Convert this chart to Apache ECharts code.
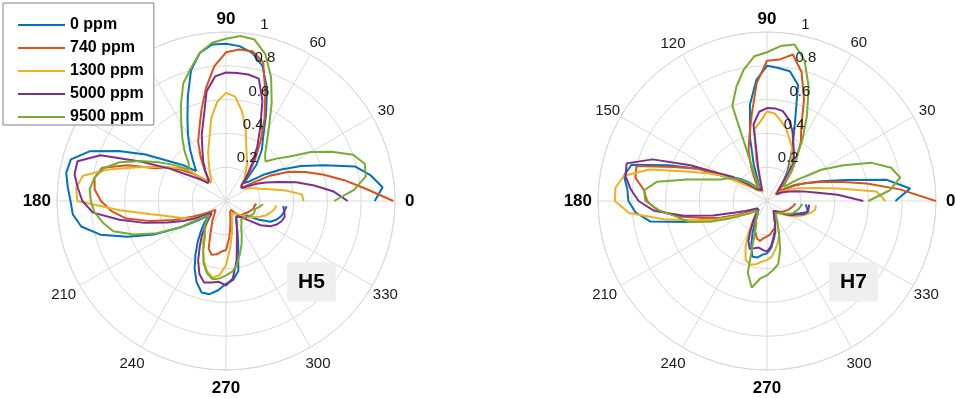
<!DOCTYPE html>
<html><head><meta charset="utf-8">
<script src="https://cdn.jsdelivr.net/npm/echarts@6/dist/echarts.min.js"></script>
<style>html,body{margin:0;padding:0;background:#fff}#c{width:955px;height:398px}</style>
</head><body><div id="c"></div>
<script>
// Shared angle grid (degrees)
const angles = [0,5,10,15,20,25,30,35,40,45,50,55,60,65,70,75,80,85,90,95,100,105,110,115,120,125,130,135,140,145,150,155,160,165,170,175,180,185,190,195,200,205,210,215,220,225,230,235,240,245,250,255,260,265,270,275,280,285,290,295,300,305,310,315,320,325,330,335,340,345,350,355];
const seriesNames = ['0 ppm','740 ppm','1300 ppm','5000 ppm','9500 ppm'];
const radialTicks = [0,0.2,0.4,0.6,0.8,1];
const angleTicks = [0,30,60,90,120,150,180,210,240,270,300,330];
const panelLabels = ['H5','H7'];

// H5 panel
const h5_0ppm = [.88,.93,.87,.79,.62,.49,.37,.27,.18,.15,.28,.37,.44,.56,.71,.83,.89,.92,.93,.93,.89,.80,.66,.54,.45,.37,.30,.25,.33,.41,.55,.70,.86,.95,.96,.94,.92,.91,.87,.77,.62,.47,.31,.20,.13,.18,.23,.29,.36,.44,.51,.56,.56,.53,.49,.47,.42,.28,.20,.15,.12,.11,.12,.13,.14,.15,.22,.29,.32,.34,.35,.36];
const h5_740ppm = [.99,.83,.71,.60,.50,.41,.30,.18,.12,.13,.20,.30,.41,.54,.68,.85,.90,.90,.88,.80,.68,.56,.46,.39,.30,.22,.15,.18,.25,.32,.40,.46,.62,.76,.79,.78,.74,.68,.60,.46,.33,.22,.15,.11,.08,.08,.11,.14,.17,.22,.30,.33,.32,.30,.29,.22,.15,.10,.07,.06,.06,.08,.10,.12,.12,.13,.14,.15,.16,.17,.17,.18];
const h5_1300ppm = [.46,.45,.36,.27,.21,.18,.15,.13,.12,.13,.17,.20,.25,.29,.35,.45,.54,.62,.64,.59,.50,.38,.31,.24,.19,.15,.14,.17,.28,.34,.40,.48,.58,.72,.86,.89,.88,.63,.45,.35,.29,.24,.20,.12,.12,.15,.18,.22,.27,.32,.38,.43,.46,.44,.38,.28,.20,.14,.10,.08,.08,.09,.10,.12,.14,.17,.19,.22,.25,.27,.29,.30];
const h5_5000ppm = [.72,.64,.53,.43,.33,.26,.20,.15,.12,.13,.19,.27,.37,.48,.63,.75,.76,.76,.76,.74,.66,.51,.42,.33,.27,.21,.16,.15,.20,.26,.38,.55,.79,.91,.91,.88,.85,.79,.64,.50,.37,.28,.20,.13,.11,.14,.19,.25,.31,.39,.46,.50,.49,.48,.50,.46,.36,.25,.19,.15,.12,.11,.12,.14,.18,.25,.30,.33,.35,.36,.35,.34];
const h5_9500ppm = [.64,.76,.84,.85,.80,.69,.58,.46,.39,.33,.36,.42,.51,.64,.78,.90,.97,.98,.96,.94,.89,.81,.74,.63,.53,.45,.38,.31,.29,.37,.46,.56,.67,.75,.79,.81,.80,.78,.74,.69,.58,.45,.31,.17,.13,.16,.20,.22,.25,.32,.39,.44,.47,.46,.44,.42,.38,.32,.27,.22,.18,.16,.14,.14,.15,.16,.17,.18,.18,.18,.20,.22];

// H7 panel
const h7_0ppm = [.76,.85,.72,.48,.34,.25,.18,.12,.07,.11,.15,.21,.27,.36,.48,.71,.78,.79,.80,.72,.58,.39,.23,.12,.07,.09,.12,.16,.20,.24,.29,.45,.62,.83,.86,.83,.82,.78,.70,.48,.30,.20,.15,.11,.09,.07,.08,.10,.14,.20,.27,.34,.34,.32,.31,.28,.23,.19,.14,.10,.08,.08,.09,.10,.12,.14,.16,.18,.21,.25,.24,.23];
const h7_740ppm = [1.0,.79,.60,.44,.33,.25,.19,.12,.08,.15,.22,.30,.40,.48,.64,.79,.88,.84,.83,.70,.52,.40,.32,.22,.14,.08,.09,.12,.16,.22,.30,.45,.59,.80,.79,.73,.71,.65,.53,.39,.29,.20,.14,.10,.08,.07,.08,.10,.13,.17,.20,.23,.24,.22,.21,.20,.18,.17,.14,.10,.08,.07,.08,.09,.10,.11,.12,.13,.14,.15,.16,.17];
const h7_1300ppm = [.70,.65,.43,.30,.22,.17,.12,.09,.06,.10,.16,.23,.29,.35,.39,.44,.48,.52,.53,.47,.43,.25,.10,.06,.05,.06,.08,.10,.13,.18,.30,.39,.51,.72,.86,.90,.90,.82,.62,.44,.32,.22,.16,.12,.09,.08,.10,.15,.22,.30,.37,.39,.38,.36,.35,.33,.29,.25,.21,.14,.10,.08,.09,.10,.12,.15,.18,.21,.24,.27,.29,.29];
const h7_5000ppm = [.57,.42,.29,.22,.17,.13,.10,.07,.06,.10,.15,.27,.32,.37,.44,.50,.54,.55,.55,.53,.46,.20,.10,.07,.06,.07,.09,.12,.17,.25,.33,.50,.72,.86,.85,.81,.76,.67,.50,.33,.20,.14,.10,.08,.07,.08,.10,.14,.19,.26,.30,.29,.28,.29,.30,.27,.22,.18,.14,.10,.08,.07,.08,.09,.11,.14,.17,.19,.23,.25,.25,.25];
const h7_9500ppm = [.60,.73,.80,.76,.66,.50,.37,.22,.13,.15,.22,.30,.42,.56,.72,.86,.94,.92,.88,.86,.79,.70,.60,.18,.09,.09,.11,.15,.19,.23,.27,.30,.37,.49,.66,.73,.72,.64,.54,.48,.36,.25,.17,.13,.10,.08,.09,.10,.13,.15,.22,.44,.52,.46,.44,.41,.38,.30,.21,.15,.11,.09,.09,.10,.11,.13,.15,.17,.18,.19,.20,.21];

const colors = ['#0072BD','#D95319','#EDB120','#7E2F8E','#77AC30'];
const panels = [
  {center:[226,201], data:[h5_0ppm,h5_740ppm,h5_1300ppm,h5_5000ppm,h5_9500ppm]},
  {center:[767,201], data:[h7_0ppm,h7_740ppm,h7_1300ppm,h7_5000ppm,h7_9500ppm]}
];
const R = 169;
const gridColor = '#d9d9d9';
const font = 'Liberation Sans, Arial, sans-serif';

// per-label text nudges (padding [top,right,bottom,left]) so labels sit like the original
const labelPad = {
  0: [0,0,0,6], 30: [0,0,-4,2], 60: [0,0,1,-3], 90: [0,0,0,0], 120: [0,-5,0,0], 150: [0,-3,-4,0],
  180: [0,2,0,0], 210: [0,0,0,0], 240: [6,-5,0,0], 270: [6,0,0,0], 300: [6,0,0,-7], 330: [0,0,0,-3]
};
const rich = {};
angleTicks.forEach(v => {
  const bold = v % 90 === 0;
  rich['a' + v] = {
    fontSize: bold ? 17 : 15, fontWeight: bold ? 'bold' : 'normal',
    color: bold ? '#000' : '#1a1a1a', fontFamily: font, padding: labelPad[v]
  };
});

const polar = [], angleAxis = [], radiusAxis = [], series = [];
panels.forEach((p, k) => {
  // data polar
  polar.push({center: p.center, radius: R});
  angleAxis.push({
    polarIndex: polar.length - 1, type: 'value', min: 0, max: 360, interval: 30,
    startAngle: 0, clockwise: false,
    axisLine: {lineStyle: {color: gridColor, width: 1}},
    axisTick: {show: false},
    splitLine: {lineStyle: {color: gridColor, width: 1}},
    axisLabel: {
      margin: 4, fontFamily: font,
      formatter: v => '{a' + v + '|' + v + '}',
      rich: rich
    }
  });
  radiusAxis.push({
    polarIndex: polar.length - 1, type: 'value', min: radialTicks[0], max: radialTicks[radialTicks.length-1], interval: 0.2,
    axisLine: {show: false}, axisTick: {show: false}, axisLabel: {show: false},
    splitLine: {lineStyle: {color: gridColor, width: 1}}
  });
  const dataPolarIndex = polar.length - 1;
  // label-only polar for radial tick labels
  polar.push({center: p.center, radius: R});
  angleAxis.push({polarIndex: polar.length - 1, type: 'value', min: 0, max: 360, startAngle: 80, show: false});
  radiusAxis.push({
    polarIndex: polar.length - 1, type: 'value', min: 0, max: 1, interval: 0.2, z: 20,
    axisLine: {show: false}, axisTick: {show: false}, splitLine: {show: false},
    axisLabel: {show: true, margin: -5, align: 'left', verticalAlign: 'bottom', padding: [0, 0, 3, 0],
      fontSize: 15, color: '#1a1a1a', fontFamily: font,
      formatter: v => (v === 0 ? '' : String(+v.toFixed(1)))}
  });
  p.data.forEach((vals, i) => {
    series.push({
      type: 'line', name: seriesNames[i], coordinateSystem: 'polar', polarIndex: dataPolarIndex,
      symbol: 'none', smooth: false, animation: false,
      lineStyle: {width: 2, color: colors[i]}, itemStyle: {color: colors[i]},
      data: angles.map((a, j) => [vals[j], a])
    });
  });
});

const chart = echarts.init(document.getElementById('c'), null, {renderer: 'canvas'});
chart.setOption({
  animation: false,
  color: colors,
  polar, angleAxis, radiusAxis, series,
  legend: {
    data: seriesNames, orient: 'vertical', left: 3, top: 3,
    icon: 'path://M0,0 L47,0 L47,2 L0,2 Z',
    backgroundColor: '#fff', borderColor: '#808080', borderWidth: 1, borderRadius: 0,
    padding: [14, 10, 0, 15], itemGap: 7, itemWidth: 47, itemHeight: 16, z: 30,
    textStyle: {fontSize: 16, fontWeight: 'bold', color: '#000', fontFamily: font}
  },
  title: panelLabels.map((t, k) => ({
    text: t, left: k === 0 ? 287 : 829, top: 263,
    padding: [9, 11, 9, 11], backgroundColor: '#efefef',
    textStyle: {fontSize: 21, fontWeight: 'bold', color: '#000', fontFamily: font, lineHeight: 20}
  }))
});
</script></body></html>
